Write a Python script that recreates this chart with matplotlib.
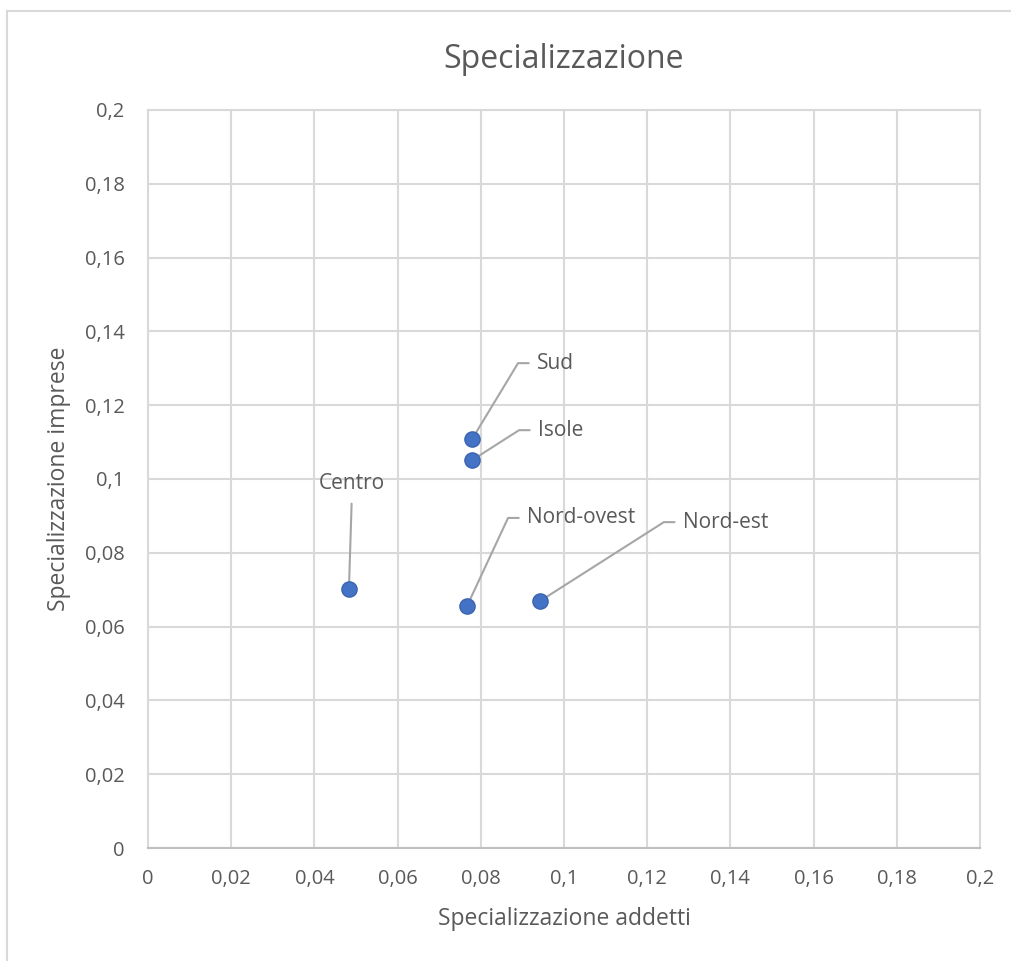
import math

import matplotlib
matplotlib.use('Agg')
import matplotlib.pyplot as plt
from matplotlib.lines import Line2D
from matplotlib.ticker import FuncFormatter

# data
regions = ['Centro', 'Nord-ovest', 'Nord-est', 'Sud', 'Isole']
addetti = [0.0483, 0.0767, 0.0942, 0.0779, 0.0779]
imprese = [0.0702, 0.0656, 0.0669, 0.1108, 0.1051]
ticks = [0, 0.02, 0.04, 0.06, 0.08, 0.1, 0.12, 0.14, 0.16, 0.18, 0.2]

# label placement: (text dx, text dy) in pixels from the point
label_offsets = {
    'Centro': (3, 95),
    'Nord-ovest': (60, 88),
    'Nord-est': (143, 79),
    'Sud': (65, 76),
    'Isole': (66, 30),
}

TEXT = '#595959'
GRID = '#d9d9d9'
BLUE = '#4472c4'

plt.rcParams['font.family'] = ['Open Sans', 'DejaVu Sans']

fig = plt.figure(figsize=(10.11, 9.61), dpi=100)
ax = fig.add_axes([148 / 1011, 1 - 848 / 961, 832 / 1011, 738 / 961])

# outer chart border (only left/top visible in the crop)
fig.add_artist(Line2D([7 / 1011, 7 / 1011], [0, 1 - 11 / 961], transform=fig.transFigure, color=GRID, lw=1.5))
fig.add_artist(Line2D([7 / 1011, 1], [1 - 11 / 961, 1 - 11 / 961], transform=fig.transFigure, color=GRID, lw=1.5))

ax.set_xlim(0, 0.2)
ax.set_ylim(0, 0.2)
ax.set_xticks(ticks)
ax.set_yticks(ticks)
fmt = FuncFormatter(lambda v, _: ('%g' % round(v, 3)).replace('.', ','))
ax.xaxis.set_major_formatter(fmt)
ax.yaxis.set_major_formatter(fmt)
ax.grid(True, color=GRID, lw=1.5)
ax.set_axisbelow(True)
for side in ['top', 'right', 'left']:
    ax.spines[side].set_color(GRID)
    ax.spines[side].set_linewidth(1.5)
ax.spines['bottom'].set_color('#bfbfbf')
ax.spines['bottom'].set_linewidth(1.5)
ax.tick_params(length=0, labelsize=14.5, labelcolor=TEXT)
ax.tick_params(axis='x', pad=15)
ax.tick_params(axis='y', pad=17)

ax.scatter(addetti, imprese, s=120, color=BLUE, edgecolors='#3a64b0', linewidths=1, zorder=5)

for name, x, y in zip(regions, addetti, imprese):
    dx, dy = label_offsets[name]
    if name == 'Centro':
        ax.annotate(name, xy=(x, y), xytext=(dx, dy), textcoords='offset pixels',
                    ha='center', va='bottom', fontsize=15, color=TEXT,
                    arrowprops=dict(arrowstyle='-', color='#a6a6a6', lw=1.5,
                                    relpos=(0.5, 0), shrinkA=5, shrinkB=0))
    else:
        # elbow leader: horizontal from text, diagonal to point
        theta = math.degrees(math.atan2(dy, dx - 19))
        ax.annotate(name, xy=(x, y), xytext=(dx, dy), textcoords='offset pixels',
                    ha='left', va='center', fontsize=15, color=TEXT,
                    arrowprops=dict(arrowstyle='-', color='#a6a6a6', lw=1.5,
                                    connectionstyle=f'angle,angleA=0,angleB={theta},rad=0',
                                    relpos=(0, 0.5), shrinkA=4, shrinkB=0))

ax.set_title('Specializzazione', fontsize=23, color=TEXT, pad=30)
ax.set_xlabel('Specializzazione addetti', fontsize=16.5, color=TEXT, labelpad=13)
ax.set_ylabel('Specializzazione imprese', fontsize=16.5, color=TEXT, labelpad=10)

fig.savefig('out.png', dpi=100)
